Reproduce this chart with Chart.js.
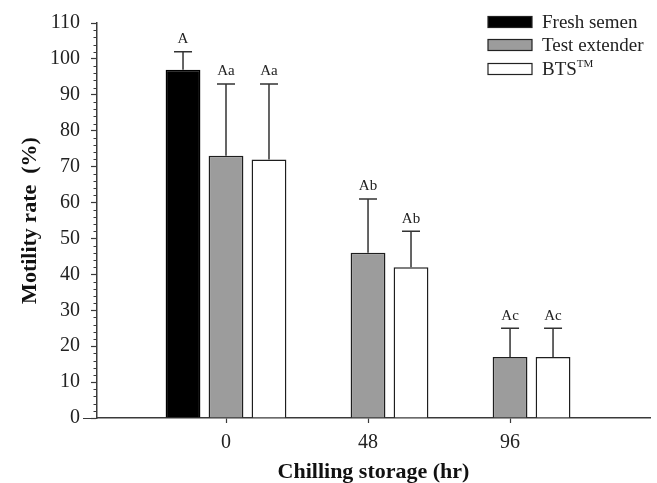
<!DOCTYPE html>
<html>
<head>
<meta charset="utf-8">
<script src="https://cdn.jsdelivr.net/npm/chart.js@4.4.1/dist/chart.umd.min.js"></script>
<style>
  html, body { margin: 0; padding: 0; background: #fff; }
  #wrap { width: 657px; height: 483px; position: relative; }
</style>
</head>
<body>
<div id="wrap"><canvas id="motilityChart"></canvas></div>
<script>
// chilling storage time (hr)
const hours = [0, 48, 96];

// motility rate (%) means and SD (upper error only)
const freshMean = [97, null, null];
const freshSd = [5, null, null];
const freshLetters = ['A', '', ''];

const testMean = [73, 46, 17];
const testSd = [20, 15, 8];
const testLetters = ['Aa', 'Ab', 'Ac'];

const btsMean = [72, 42, 17];
const btsSd = [21, 10, 8];
const btsLetters = ['Aa', 'Ab', 'Ac'];

const yTicks = [0, 10, 20, 30, 40, 50, 60, 70, 80, 90, 100, 110];

const SERIF = '"Liberation Serif", "Times New Roman", serif';
const AXIS = '#3a3a3a';

const sdSets = [freshSd, testSd, btsSd];
const letterSets = [freshLetters, testLetters, btsLetters];

// error bars + significance letters above each bar
const errorBars = {
    id: 'errorBars',
    afterDatasetsDraw(chart) {
        const ctx = chart.ctx;
        const y = chart.scales.y;
        ctx.save();
        ctx.strokeStyle = '#333';
        ctx.lineWidth = 1.5;
        ctx.fillStyle = '#222';
        ctx.font = '15px ' + SERIF;
        ctx.textAlign = 'center';
        ctx.textBaseline = 'bottom';
        chart.data.datasets.forEach(function(ds, d) {
            const meta = chart.getDatasetMeta(d);
            meta.data.forEach(function(bar, i) {
                const v = ds.data[i];
                if (v === null) return;
                const top = y.getPixelForValue(v + sdSets[d][i]);
                ctx.beginPath();
                ctx.moveTo(bar.x, bar.y);
                ctx.lineTo(bar.x, top);
                ctx.moveTo(bar.x - 9, top);
                ctx.lineTo(bar.x + 9, top);
                ctx.stroke();
                ctx.fillText(letterSets[d][i], bar.x, top - 5);
            });
        });
        ctx.restore();
    }
};

// minor y ticks and the little x-axis stub left of the y axis
const axisExtras = {
    id: 'axisExtras',
    afterDraw(chart) {
        const ctx = chart.ctx;
        const y = chart.scales.y;
        const left = chart.chartArea.left;
        ctx.save();
        ctx.strokeStyle = AXIS;
        ctx.lineWidth = 1.2;
        ctx.beginPath();
        for (let v = 0; v <= 110; v += 2) {
            if (v % 10 === 0) continue;
            const py = Math.round(y.getPixelForValue(v)) + 0.5;
            ctx.moveTo(left - 3.5, py);
            ctx.lineTo(left, py);
        }
        const p0 = Math.round(y.getPixelForValue(0)) + 0.5;
        ctx.moveTo(left - 14, p0);
        ctx.lineTo(left, p0);
        ctx.stroke();
        ctx.restore();
    }
};

// legend in the upper right corner
const boxLegend = {
    id: 'boxLegend',
    afterDraw(chart) {
        const ctx = chart.ctx;
        const rows = [22, 45, 69];
        ctx.save();
        chart.data.datasets.forEach(function(ds, d) {
            const cy = rows[d];
            ctx.fillStyle = ds.backgroundColor;
            ctx.fillRect(488, cy - 5.5, 44, 11);
            ctx.strokeStyle = '#222';
            ctx.lineWidth = 1.2;
            ctx.strokeRect(488, cy - 5.5, 44, 11);
            ctx.fillStyle = '#222';
            ctx.textAlign = 'left';
            ctx.textBaseline = 'middle';
            ctx.font = '19px ' + SERIF;
            if (ds.label === 'BTS™') {
                ctx.fillText('BTS', 542, cy + 1);
                const w = ctx.measureText('BTS').width;
                ctx.font = '11px ' + SERIF;
                ctx.fillText('TM', 542 + w, cy - 5);
            } else {
                ctx.fillText(ds.label, 542, cy + 1);
            }
        });
        ctx.restore();
    }
};

const ctx = document.getElementById('motilityChart').getContext('2d');
new Chart(ctx, {
    type: 'bar',
    data: {
        labels: hours,
        datasets: [
            { label: 'Fresh semen', data: freshMean, backgroundColor: '#000000', borderColor: '#000000', borderWidth: 1.5 },
            { label: 'Test extender', data: testMean, backgroundColor: '#9c9c9c', borderColor: '#1e1e1e', borderWidth: 1.5 },
            { label: 'BTS™', data: btsMean, backgroundColor: '#ffffff', borderColor: '#1e1e1e', borderWidth: 1.5 }
        ]
    },
    options: {
        responsive: true,
        maintainAspectRatio: false,
        animation: false,
        categoryPercentage: 0.908,
        barPercentage: 0.81,
        layout: { padding: { top: 19, right: 7, left: 0, bottom: 0 } },
        plugins: {
            legend: { display: false },
            tooltip: { enabled: false }
        },
        scales: {
            x: {
                type: 'linear',
                offset: false,
                min: -43.6,
                max: 143.3,
                afterBuildTicks: function(scale) {
                    scale.ticks = hours.map(function(h) { return { value: h }; });
                },
                afterFit: function(scale) { scale.height = 65; },
                grid: {
                    offset: false,
                    drawOnChartArea: false,
                    drawTicks: true,
                    tickLength: 5,
                    tickColor: AXIS,
                    tickWidth: 1.2
                },
                border: { display: true, color: AXIS, width: 1.5 },
                ticks: {
                    autoSkip: false,
                    maxRotation: 0,
                    padding: 8,
                    color: '#222',
                    font: { family: SERIF, size: 20 },
                    callback: function(v) { return String(v); }
                },
                title: {
                    display: true,
                    text: 'Chilling storage (hr)',
                    color: '#111',
                    font: { family: SERIF, size: 22, weight: 'bold', lineHeight: 1 },
                    padding: { top: 0, bottom: 0 }
                }
            },
            y: {
                min: 0,
                max: 110,
                afterBuildTicks: function(scale) {
                    scale.ticks = yTicks.map(function(v) { return { value: v }; });
                },
                afterFit: function(scale) { scale.width = 97; },
                grid: {
                    drawOnChartArea: false,
                    drawTicks: true,
                    tickLength: 6,
                    tickColor: AXIS,
                    tickWidth: 1.2
                },
                border: { display: true, color: AXIS, width: 1.5 },
                ticks: {
                    padding: 11,
                    color: '#222',
                    font: { family: SERIF, size: 20 }
                },
                title: {
                    display: true,
                    text: 'Motility rate  (%)',
                    color: '#111',
                    font: { family: SERIF, size: 22, weight: 'bold', lineHeight: 1.2 },
                    padding: { top: 17, bottom: 0 }
                }
            }
        }
    },
    plugins: [errorBars, axisExtras, boxLegend]
});
</script>
</body>
</html>
